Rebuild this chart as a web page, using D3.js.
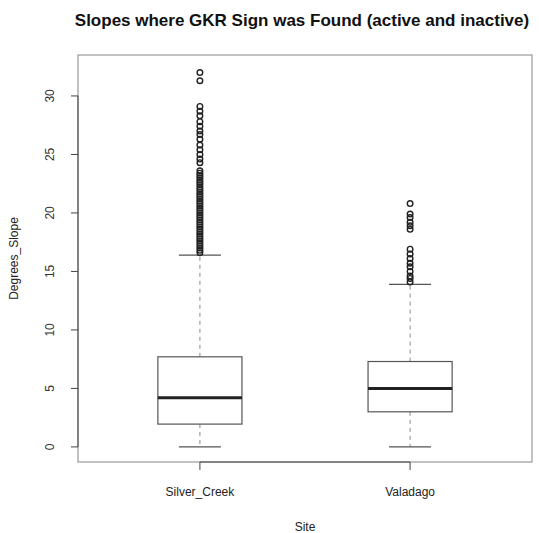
<!DOCTYPE html>
<html><head><meta charset="utf-8">
<script src="https://cdn.jsdelivr.net/npm/d3@7"></script>
<style>html,body{margin:0;padding:0;background:#fff;}svg{display:block;}</style>
</head><body>
<svg id="c" width="539" height="533"></svg>
<script>
const sites = ["Silver_Creek", "Valadago"];
const whiskerLow = [0, 0];
const q1 = [1.95, 3.0];
const median = [4.2, 5.0];
const q3 = [7.7, 7.3];
const whiskerHigh = [16.4, 13.9];
const outliersSilver = [32.0, 31.3, 29.1, 28.7, 28.3, 27.8, 27.4, 27.0, 26.7, 26.3, 25.8, 25.4, 25.0, 24.6, 24.3,
  23.6, 23.4, 23.2, 23.0, 22.8, 22.6, 22.4, 22.2, 22.0, 21.8, 21.6, 21.4, 21.2, 21.0, 20.8, 20.6, 20.4, 20.2, 20.0,
  19.8, 19.6, 19.4, 19.2, 19.0, 18.8, 18.6, 18.4, 18.2, 18.0, 17.8, 17.6, 17.4, 17.2, 17.0, 16.8, 16.6];
const outliersValadago = [20.8, 19.9, 19.6, 19.2, 18.9, 18.6, 16.9, 16.5, 16.1, 15.7, 15.4, 15.0, 14.6, 14.4, 14.1];
const outliers = [outliersSilver, outliersValadago];
const yTicks = [0, 5, 10, 15, 20, 25, 30];
const title = "Slopes where GKR Sign was Found (active and inactive)";
const xTitle = "Site";
const yTitle = "Degrees_Slope";

const svg = d3.select("#c");
const L = 78, R = 532, T = 55, B = 462;
const x = d3.scaleLinear().domain([0.42, 2.58]).range([L, R]);
const y = d3.scaleLinear().domain([-1.29, 33.5]).range([B, T]);
const boxW = x(1.4) - x(1.0);
const stapleW = boxW / 2;
const font = "'Liberation Sans', Arial, sans-serif";
const lineCol = "#444";

svg.append("rect").attr("x", L).attr("y", T).attr("width", R - L).attr("height", B - T)
  .attr("fill", "none").attr("stroke", "#999").attr("stroke-width", 1.2);

const g = svg.append("g");
sites.forEach((s, i) => {
  const cx = x(i + 1);
  g.append("line").attr("x1", cx).attr("x2", cx).attr("y1", y(q3[i])).attr("y2", y(whiskerHigh[i]))
    .attr("stroke", "#888").attr("stroke-dasharray", "4,4");
  g.append("line").attr("x1", cx).attr("x2", cx).attr("y1", y(q1[i])).attr("y2", y(whiskerLow[i]))
    .attr("stroke", "#888").attr("stroke-dasharray", "4,4");
  [whiskerHigh[i], whiskerLow[i]].forEach(v => {
    g.append("line").attr("x1", cx - stapleW / 2).attr("x2", cx + stapleW / 2)
      .attr("y1", y(v)).attr("y2", y(v)).attr("stroke", "#555").attr("stroke-width", 1.2);
  });
  g.append("rect").attr("x", cx - boxW / 2).attr("width", boxW)
    .attr("y", y(q3[i])).attr("height", y(q1[i]) - y(q3[i]))
    .attr("fill", "#fff").attr("stroke", "#555").attr("stroke-width", 1.2);
  g.append("line").attr("x1", cx - boxW / 2).attr("x2", cx + boxW / 2)
    .attr("y1", y(median[i])).attr("y2", y(median[i])).attr("stroke", "#222").attr("stroke-width", 3);
  g.selectAll(null).data(outliers[i]).enter().append("circle")
    .attr("cx", cx).attr("cy", d => y(d)).attr("r", 2.8)
    .attr("fill", "none").attr("stroke", "#222").attr("stroke-width", 1.4);
});

const ya = svg.append("g");
ya.append("line").attr("x1", L).attr("x2", L).attr("y1", y(0)).attr("y2", y(30)).attr("stroke", lineCol);
yTicks.forEach(t => {
  ya.append("line").attr("x1", L - 7).attr("x2", L).attr("y1", y(t)).attr("y2", y(t)).attr("stroke", lineCol);
  ya.append("text").attr("transform", `translate(${L - 24},${y(t)}) rotate(-90)`)
    .attr("text-anchor", "middle").attr("font-family", font).attr("font-size", 12).attr("fill", "#333").text(t);
});
const xa = svg.append("g");
xa.append("line").attr("x1", x(1)).attr("x2", x(2)).attr("y1", B).attr("y2", B).attr("stroke", lineCol);
sites.forEach((s, i) => {
  xa.append("line").attr("x1", x(i + 1)).attr("x2", x(i + 1)).attr("y1", B).attr("y2", B + 8).attr("stroke", lineCol);
  xa.append("text").attr("x", x(i + 1)).attr("y", 496).attr("text-anchor", "middle")
    .attr("font-family", font).attr("font-size", 12).attr("fill", "#222").text(s);
});
svg.append("text").attr("x", (L + R) / 2).attr("y", 531).attr("text-anchor", "middle")
  .attr("font-family", font).attr("font-size", 12).attr("fill", "#222").text(xTitle);
svg.append("text").attr("transform", `translate(18,${(T + B) / 2}) rotate(-90)`).attr("text-anchor", "middle")
  .attr("font-family", font).attr("font-size", 12).attr("fill", "#222").text(yTitle);
svg.append("text").attr("x", 302).attr("y", 26).attr("text-anchor", "middle")
  .attr("font-family", font).attr("font-size", 17).attr("font-weight", "bold").attr("fill", "#111").text(title);
</script>
</body></html>
